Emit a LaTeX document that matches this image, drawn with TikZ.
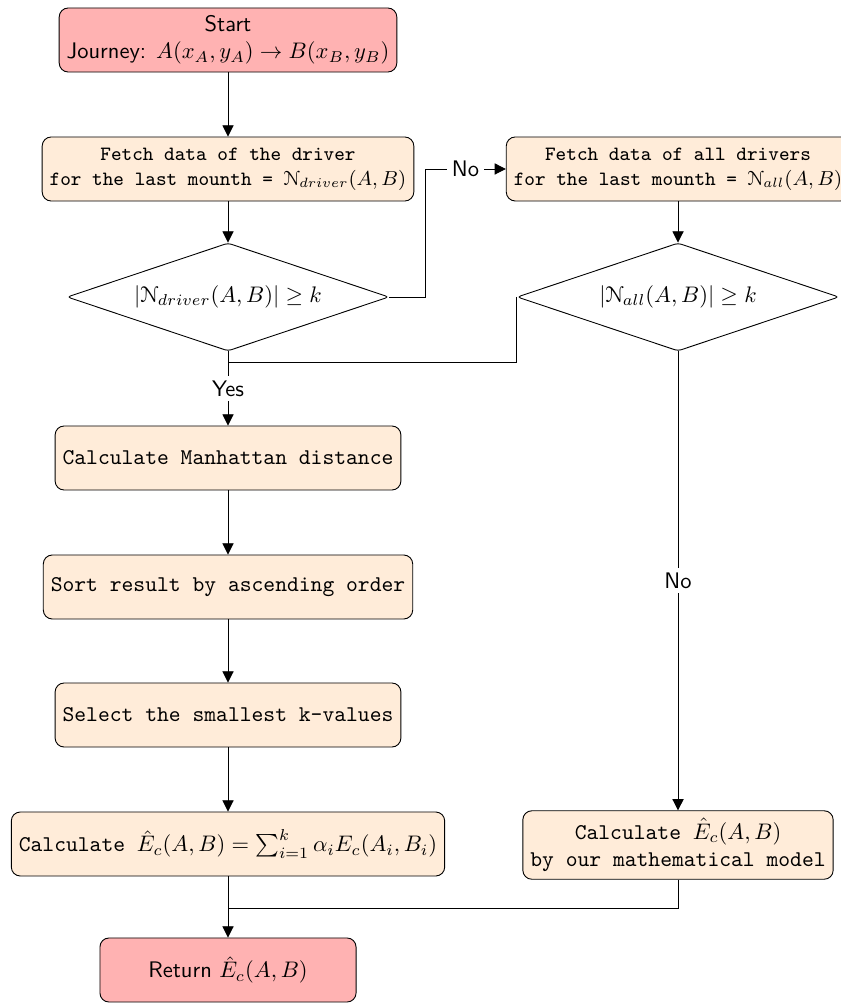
\documentclass[tikz,border=0pt]{standalone}
\usepackage{eucal}
\usetikzlibrary{shapes.geometric,arrows.meta}
\begin{document}
\begin{tikzpicture}[x=0.4444pt,y=-0.4444pt,
  box/.style={draw, rounded corners=4pt, fill=orange!15, minimum height=1cm, align=center, font=\ttfamily},
  term/.style={draw, rounded corners=4pt, fill=red!30, minimum height=1cm, align=center, font=\sffamily},
  dec/.style={draw, diamond, aspect=3, inner sep=1pt, rounded corners=1.5pt, minimum width=143pt, minimum height=48pt},
  arr/.style={-{Triangle[length=5pt,width=5pt]}},
  lbl/.style={fill=white, font=\sffamily, inner sep=2pt}]
\useasboundingbox (0,0) rectangle (840,1003);
\node[term] (start) at (228,40) {Start\\Journey: $A(x_A,y_A)\rightarrow B(x_B,y_B)$};
\node[box, font=\small\ttfamily] (fetch1) at (228,169) {Fetch data of the driver\\for the last mounth = $\mathcal{N}_{driver}(A,B)$};
\node[dec] (d1) at (228,297) {$|\mathcal{N}_{driver}(A,B)|\geq k$};
\node[box, font=\small\ttfamily] (fetch2) at (678,169) {Fetch data of all drivers\\for the last mounth = $\mathcal{N}_{all}(A,B)$};
\node[dec] (d2) at (678,297) {$|\mathcal{N}_{all}(A,B)|\geq k$};
\node[box] (manh) at (228,458) {Calculate Manhattan distance};
\node[box] (sort) at (228,587) {Sort result by ascending order};
\node[box] (sel) at (228,715) {Select the smallest k-values};
\node[box] (calc1) at (228,844) {Calculate $\hat{E}_c(A,B)=\sum_{i=1}^{k}\alpha_i E_c(A_i,B_i)$};
\node[box] (calc2) at (678,845) {Calculate $\hat{E}_c(A,B)$\\by our mathematical model};
\node[term, minimum width=4cm] (ret) at (228,970) {Return $\hat{E}_c(A,B)$};
\coordinate (j1) at (228,362);
\coordinate (j2) at (228,908);
\draw[arr] (start) -- (fetch1);
\draw[arr] (fetch1) -- (d1);
\draw[arr] (d1.east) -- ++(36,0) |- (fetch2.west) node[lbl,pos=0.75] {No};
\draw[arr] (fetch2) -- (d2);
\draw[arr] (d1.south) -- node[lbl] {Yes} (manh.north);
\draw (d2.west) |- (j1);
\draw[arr] (d2.south) -- node[lbl] {No} (calc2.north);
\draw[arr] (manh) -- (sort);
\draw[arr] (sort) -- (sel);
\draw[arr] (sel) -- (calc1);
\draw[arr] (calc1) -- (ret);
\draw (calc2.south) |- (j2);
\end{tikzpicture}
\end{document}
